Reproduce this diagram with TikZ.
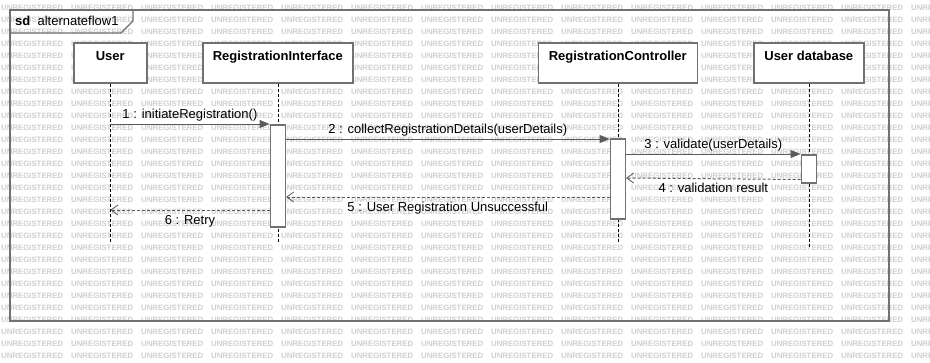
\documentclass[tikz,border=0pt]{standalone}
\usepackage{fontspec}
\setmainfont{Liberation Sans}
\usetikzlibrary{arrows.meta,positioning,calc}
\definecolor{framegray}{HTML}{717171}
\definecolor{msggray}{HTML}{5A5A5A}
\definecolor{wmgray}{HTML}{CFCFCF}

\begin{document}
\begin{tikzpicture}[x=1pt, y=-1pt,
      font=\fontsize{13}{15}\selectfont,
      wm/.style={font=\fontsize{7.8}{9}\selectfont\bfseries, text=wmgray,
                 inner sep=0pt, anchor=west},
      head/.style={draw=framegray, line width=1.6pt, fill=white,
                   anchor=north west, inner xsep=0pt, inner ysep=0pt,
                   text height=17.3pt, text depth=22.7pt,
                   font=\fontsize{13}{15}\selectfont\bfseries},
      life/.style={densely dashed, line width=0.6pt},
      act/.style={draw=framegray, line width=1.5pt, fill=white,
                  minimum width=15pt, inner sep=0pt, anchor=north},
      msg/.style={draw=msggray, line width=1pt,
                  -{Triangle[length=10pt, width=8pt]}},
      ret/.style={draw=msggray, line width=1pt, dash pattern=on 3pt off 2pt,
                  -{Straight Barb[length=7pt, width=10pt, line width=0.8pt]}},
      lbl/.style={inner sep=0pt, text height=9.5pt, text depth=2.7pt}
    ]
    \useasboundingbox (0,0) rectangle (930,362);
    \fill[white] (0,0) rectangle (930,362);
    \clip (0,0) rectangle (930,362);

    % watermark grid
    \foreach \r in {0,...,29}
      \foreach \c in {0,...,13}
        \node[wm] (wm-\r-\c) at ({1+70*\c},{8.3+12*\r}) {UNREGISTERED};

    % frame with sd tab
    \draw[draw=framegray, line width=1.6pt] (10,10) rectangle (889,321);
    \draw[draw=framegray, line width=1.2pt]
      (10,33) -- (121,33) -- (133,21) -- (133,10);
    \node[anchor=base west, inner sep=0pt] (sdname) at (15,25)
      {\textbf{sd}\ \ alternateflow1};

    % lifeline heads
    \node[head, minimum width=73pt] (user) at (73,42) {User};
    \node[head, minimum width=150pt] (regui) at (202,42) {RegistrationInterface};
    \node[head, minimum width=159pt] (regctl) at (537.5,42) {RegistrationController};
    \node[head, minimum width=110pt] (userdb) at (753,42) {User database};

    % lifelines
    \coordinate (user-end) at (user.south |- 0,242);
    \coordinate (regui-end) at (regui.south |- 0,242);
    \coordinate (regctl-end) at (regctl.south |- 0,243);
    \coordinate (userdb-end) at (userdb.south |- 0,247);
    \draw[life] (user) -- (user-end);
    \draw[life] (regui) -- (regui-end);
    \draw[life] (regctl) -- (regctl-end);
    \draw[life] (userdb) -- (userdb-end);

    % activations
    \node[act, minimum height=102pt] (regui-act) at (regui.south |- 0,124) {};
    \node[act, minimum height=80pt] (regctl-act) at (regctl.south |- 0,138) {};
    \node[act, minimum height=28pt] (userdb-act) at (userdb.south |- 0,154) {};

    % messages
    \draw[msg] (user.south |- regui-act.north west) -- (regui-act.north west)
      node[lbl, midway, above=2.3pt] {1 : initiateRegistration()};
    \draw[msg] (regui-act.east |- 0,139) -- (regctl-act.west |- 0,139)
      node[lbl, midway, above=2.3pt] {2 : collectRegistrationDetails(userDetails)};
    \draw[msg] (regctl-act.east |- userdb-act.north) -- (userdb-act.north west)
      node[lbl, midway, above=2.3pt] {3 : validate(userDetails)};

    % replies
    \draw[ret] ($(userdb-act.south west)+(0,-4)$) -- (regctl-act.east |- 0,178)
      node[lbl, midway, below=4pt] {4 : validation result};
    \draw[ret] (regctl-act.west |- 0,197) -- (regui-act.east |- 0,197)
      node[lbl, midway, below=4pt] {5 : User Registration Unsuccessful};
    \draw[ret] (regui-act.west |- 0,210) -- (user.south |- 0,210)
      node[lbl, midway, below=4pt] {6 : Retry};
  \end{tikzpicture}
\end{document}
